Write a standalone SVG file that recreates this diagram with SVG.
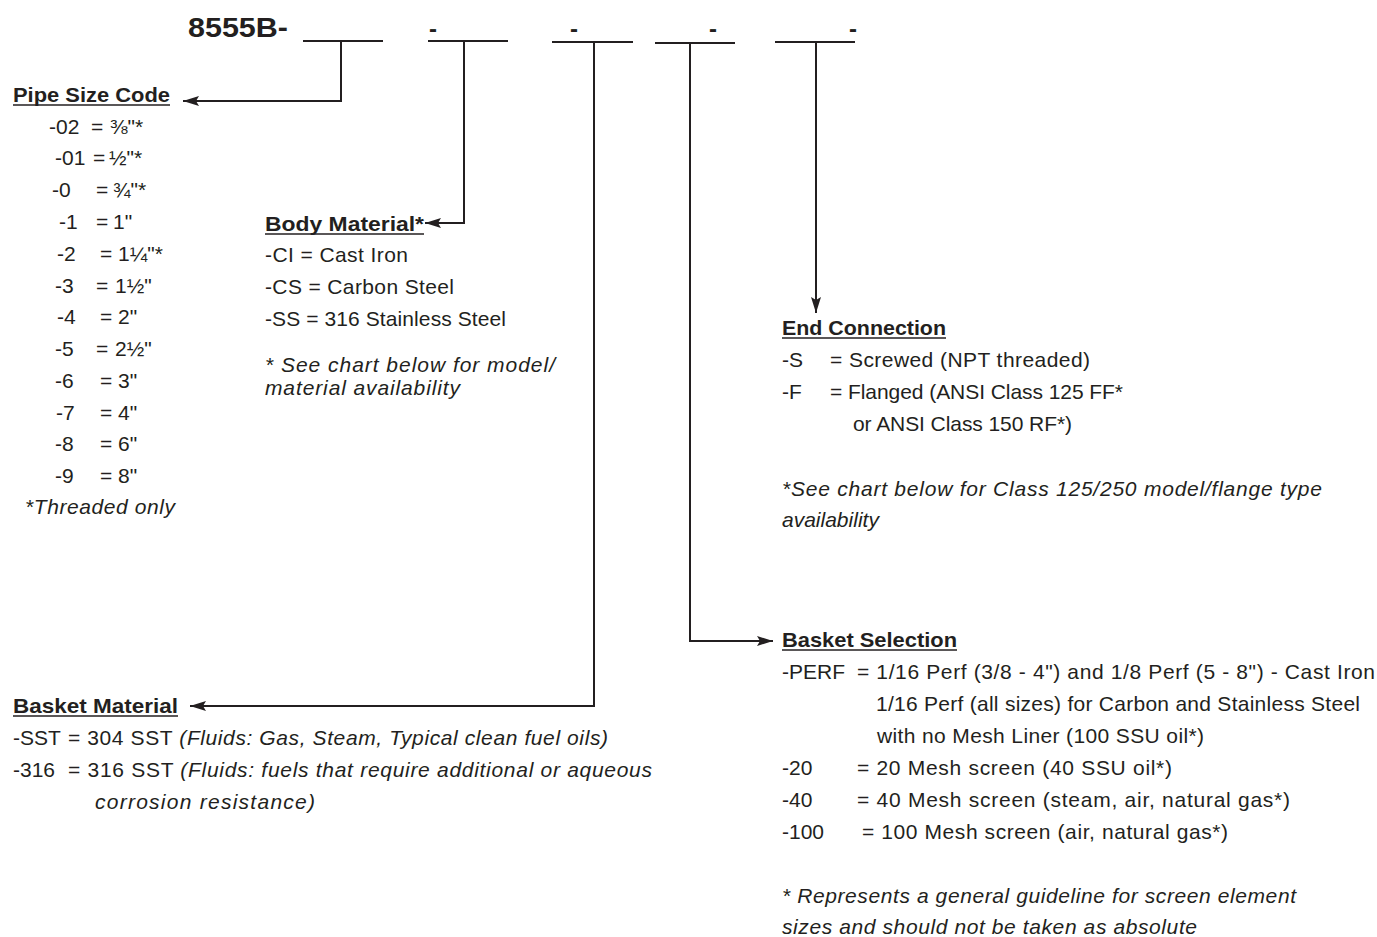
<svg xmlns="http://www.w3.org/2000/svg" width="1377" height="937" viewBox="0 0 1377 937">
<style>
text{font-family:"Liberation Sans",Arial,sans-serif;fill:#231f20;font-size:21px}
.h{font-weight:bold;font-size:21px}
.i{font-style:italic}
.t{font-weight:bold;font-size:28px}
.d{font-weight:bold;font-size:24px}
.ln{stroke:#231f20;stroke-width:2;fill:none}
.ul{stroke:#231f20;stroke-width:1.5}
</style>
<defs>
<marker id="ah" viewBox="0 0 16 10" refX="16" refY="5" markerWidth="16" markerHeight="10" orient="auto" markerUnits="userSpaceOnUse">
<path d="M0,0 L16,5 L0,10 L3,5 z" fill="#231f20"/>
</marker>
</defs>
<rect width="1377" height="937" fill="#fff"/>

<g id="title">
<text class="t" x="188" y="37" textLength="100" lengthAdjust="spacingAndGlyphs">8555B-</text>
<line class="ln" x1="303" y1="41" x2="383" y2="41"/>
<text class="d" x="429" y="37">-</text>
<line class="ln" x1="428" y1="41" x2="508" y2="41"/>
<text class="d" x="570" y="37">-</text>
<line class="ln" x1="552" y1="42" x2="633" y2="42"/>
<text class="d" x="709" y="37">-</text>
<line class="ln" x1="655" y1="43" x2="735" y2="43"/>
<text class="d" x="849" y="37">-</text>
<line class="ln" x1="775" y1="42" x2="855" y2="42"/>
</g>

<g id="connectors">
<path class="ln" d="M341,41 V101 H183" marker-end="url(#ah)"/>
<path class="ln" d="M464,41 V223 H425" marker-end="url(#ah)"/>
<path class="ln" d="M594,42 V706 H190" marker-end="url(#ah)"/>
<path class="ln" d="M690,43 V641 H773" marker-end="url(#ah)"/>
<path class="ln" d="M816,42 V313" marker-end="url(#ah)"/>
</g>

<g id="pipe-size">
<text class="h" x="13" y="102" textLength="157" lengthAdjust="spacingAndGlyphs">Pipe Size Code</text>
<line class="ul" x1="13" y1="105" x2="170" y2="105"/>
<text y="134"><tspan x="49">-02</tspan><tspan x="91">=</tspan><tspan x="110">⅜"*</tspan></text>
<text y="165"><tspan x="55">-01</tspan><tspan x="93">=</tspan><tspan x="109">½"*</tspan></text>
<text y="197"><tspan x="52">-0</tspan><tspan x="96">=</tspan><tspan x="113">¾"*</tspan></text>
<text y="229"><tspan x="59">-1</tspan><tspan x="96">=</tspan><tspan x="113">1"</tspan></text>
<text y="261"><tspan x="57">-2</tspan><tspan x="100">=</tspan><tspan x="118">1¼"*</tspan></text>
<text y="293"><tspan x="55">-3</tspan><tspan x="96">=</tspan><tspan x="115">1½"</tspan></text>
<text y="324"><tspan x="57">-4</tspan><tspan x="100">=</tspan><tspan x="118">2"</tspan></text>
<text y="356"><tspan x="55">-5</tspan><tspan x="96">=</tspan><tspan x="115">2½"</tspan></text>
<text y="388"><tspan x="55">-6</tspan><tspan x="100">=</tspan><tspan x="118">3"</tspan></text>
<text y="420"><tspan x="56">-7</tspan><tspan x="100">=</tspan><tspan x="118">4"</tspan></text>
<text y="451"><tspan x="55">-8</tspan><tspan x="100">=</tspan><tspan x="118">6"</tspan></text>
<text y="483"><tspan x="55">-9</tspan><tspan x="100">=</tspan><tspan x="118">8"</tspan></text>
<text class="i" x="25" y="514" textLength="150">*Threaded only</text>
</g>

<g id="body-material">
<text class="h" x="265" y="231" textLength="159" lengthAdjust="spacingAndGlyphs">Body Material*</text>
<line class="ul" x1="265" y1="234" x2="424" y2="234"/>
<text x="265" y="262" textLength="143">-CI = Cast Iron</text>
<text x="265" y="294" textLength="189">-CS = Carbon Steel</text>
<text x="265" y="326" textLength="241">-SS = 316 Stainless Steel</text>
<text class="i" x="265" y="372" textLength="290">* See chart below for model/</text>
<text class="i" x="265" y="395" textLength="195">material availability</text>
</g>

<g id="end-connection">
<text class="h" x="782" y="335" textLength="164" lengthAdjust="spacingAndGlyphs">End Connection</text>
<line class="ul" x1="782" y1="338" x2="946" y2="338"/>
<text x="782" y="367">-S</text>
<text x="830" y="367" textLength="260">= Screwed (NPT threaded)</text>
<text x="782" y="399">-F</text>
<text x="830" y="399" textLength="293">= Flanged (ANSI Class 125 FF*</text>
<text x="853" y="431" textLength="219">or ANSI Class 150 RF*)</text>
<text class="i" x="782" y="496" textLength="540">*See chart below for Class 125/250 model/flange type</text>
<text class="i" x="782" y="527">availability</text>
</g>

<g id="basket-selection">
<text class="h" x="782" y="647" textLength="175" lengthAdjust="spacingAndGlyphs">Basket Selection</text>
<line class="ul" x1="782" y1="650" x2="957" y2="650"/>
<text x="782" y="679">-PERF</text>
<text x="857" y="679" textLength="518">= 1/16 Perf (3/8 - 4") and 1/8 Perf (5 - 8") - Cast Iron</text>
<text x="876" y="711" textLength="484">1/16 Perf (all sizes) for Carbon and Stainless Steel</text>
<text x="877" y="743" textLength="327">with no Mesh Liner (100 SSU oil*)</text>
<text x="782" y="775">-20</text>
<text x="857" y="775" textLength="315">= 20 Mesh screen (40 SSU oil*)</text>
<text x="782" y="807">-40</text>
<text x="857" y="807" textLength="433">= 40 Mesh screen (steam, air, natural gas*)</text>
<text x="782" y="839">-100</text>
<text x="862" y="839" textLength="366">= 100 Mesh screen (air, natural gas*)</text>
<text class="i" x="782" y="903" textLength="514">* Represents a general guideline for screen element</text>
<text class="i" x="782" y="934" textLength="415">sizes and should not be taken as absolute</text>
</g>

<g id="basket-material">
<text class="h" x="13" y="713" textLength="165" lengthAdjust="spacingAndGlyphs">Basket Material</text>
<line class="ul" x1="13" y1="716" x2="178" y2="716"/>
<text x="13" y="745">-SST</text>
<text x="68" y="745" textLength="540">= 304 SST <tspan class="i">(Fluids: Gas, Steam, Typical clean fuel oils)</tspan></text>
<text x="13" y="777">-316</text>
<text x="68" y="777" textLength="584">= 316 SST <tspan class="i">(Fluids: fuels that require additional or aqueous</tspan></text>
<text class="i" x="95" y="809" textLength="220">corrosion resistance)</text>
</g>
</svg>
